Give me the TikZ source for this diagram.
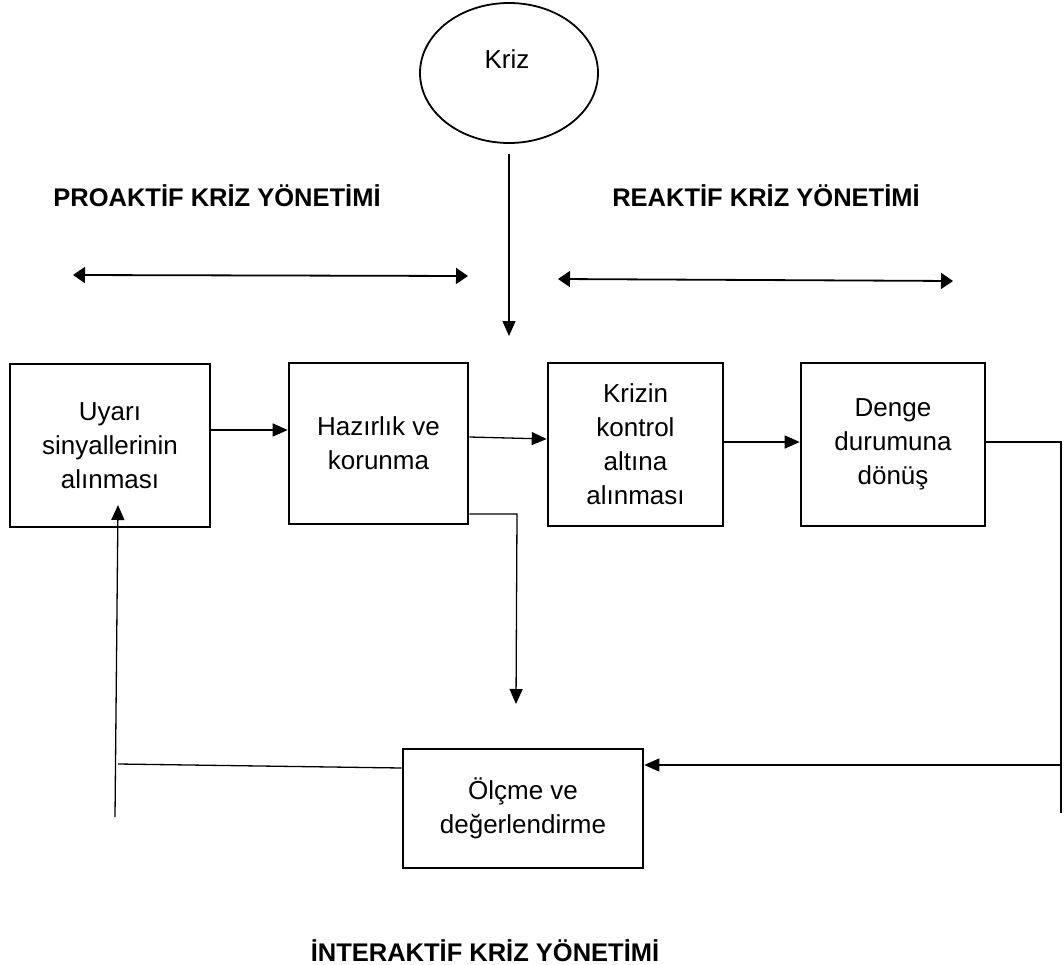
\documentclass[tikz,border=0pt]{standalone}
\usepackage{fontspec}
\setmainfont{Liberation Sans}
\usetikzlibrary{arrows.meta,shapes.geometric}

\tikzset{
  stage/.style={draw, line width=2.6pt, align=center, inner sep=0pt,
    font=\fontsize{26}{34}\selectfont},
  conn/.style={line width=1.3pt},
  arr/.style={conn, -{Triangle[length=15pt,width=13pt]}},
  span/.style={line width=1.8pt, {Triangle[length=12pt,width=16pt]}-{Triangle[length=12pt,width=16pt]}},
  heading/.style={font=\fontsize{25.5}{30}\selectfont\bfseries, anchor=base}
}

\begin{document}
\begin{tikzpicture}[x=1pt,y=-1pt]
  \useasboundingbox (0,0) rectangle (1064,965);

  % trigger
  \node[draw, ellipse, line width=1.8pt, minimum width=178pt, minimum height=140pt] (kriz) at (509,73) {};
  \node[anchor=base, font=\fontsize{26}{30}\selectfont] (krizlbl) at (507,69) {Kriz};

  % headings and their span arrows
  \node[heading] (pro) at (217,207) {PROAKTİF KRİZ YÖNETİMİ};
  \node[heading] (rea) at (766,207) {REAKTİF KRİZ YÖNETİMİ};
  \node[heading] (inter) at (485,961) {İNTERAKTİF KRİZ YÖNETİMİ};

  \coordinate (proL) at (73,275);
  \coordinate (proR) at (468,276);
  \coordinate (reaL) at (558,279);
  \coordinate (reaR) at (953,281);
  \draw[span] (proL) -- (proR);
  \draw[span] (reaL) -- (reaR);

  % process stages
  \node[stage, minimum width=200pt, minimum height=163pt] (s1) at (110,445.5)
    {Uyarı\\sinyallerinin\\alınması};
  \node[stage, minimum width=179pt, minimum height=161pt] (s2) at (378.5,443.5)
    {Hazırlık ve\\korunma};
  \node[stage, minimum width=175pt, minimum height=163pt] (s3) at (635.5,444.5)
    {Krizin\\kontrol\\altına\\alınması};
  \node[stage, minimum width=184pt, minimum height=163pt] (s4) at (893,444.5)
    {Denge\\durumuna\\dönüş};
  \node[stage, minimum width=240pt, minimum height=119pt] (s5) at (523,808.5)
    {Ölçme ve\\değerlendirme};

  % crisis arrow
  \coordinate (kriztip) at (509,336);
  \draw[arr, shorten <=10pt] (kriz.south) -- (kriztip);

  % main flow
  \draw[arr] (s1.east |- 0,430) -- (s2.west |- 0,430);
  \draw[arr] (s2.east |- 0,437) -- (s3.west |- 0,439);
  \draw[arr] (s3.east |- 0,442) -- (s4.west |- 0,442);

  % preparation feeds evaluation
  \coordinate (prepA) at (517,514);
  \coordinate (prepB) at (516,704);
  \draw[arr] (s2.east |- 0,514) -- (prepA) -- (prepB);

  % recovery feeds evaluation
  \coordinate (retA) at (1061,442);
  \coordinate (retB) at (1061,813);
  \coordinate (retC) at (1061,765);
  \draw[conn] (s4.east |- 0,442) -- (retA) -- (retB);
  \draw[arr] (retC) -- (s5.east |- 0,765);

  % evaluation feeds back to warning signals
  \coordinate (fbA) at (118,764);
  \coordinate (fbB) at (115,817);
  \coordinate (fbTip) at (118,505);
  \draw[conn] (s5.west |- 0,768) -- (fbA);
  \draw[arr] (fbB) -- (fbTip);
\end{tikzpicture}
\end{document}
